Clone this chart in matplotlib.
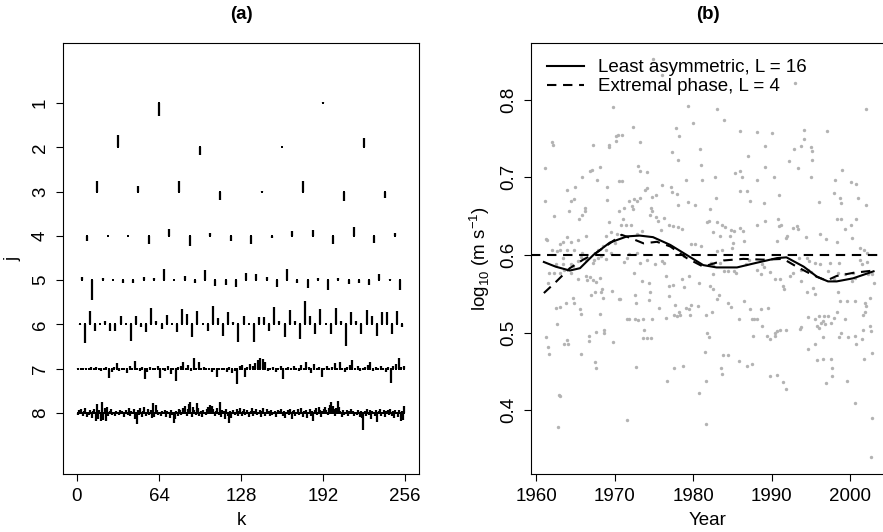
import matplotlib
matplotlib.use('Agg')
import matplotlib.pyplot as plt
import numpy as np

plt.rcParams['font.family'] = ['Liberation Sans', 'DejaVu Sans']
plt.rcParams['mathtext.fontset'] = 'custom'
plt.rcParams['mathtext.rm'] = 'Liberation Sans'

# ---- panel (a): wavelet coefficients by level j (positive = drawn upwards)
coef_j1 = [-13, 1.5]
coef_j2 = [12, -8, 0.5, 9]
coef_j3 = [10.5, 6, 11, -8.5, 0.5, 11, -9, -6.5]
coef_j4 = [-5, 0, -0.5, -8, 7, -10, 3, -5, -8, -2.5, 5, 6, -8, 9, -7, 2.5]
coef_j5 = [3.5, -20, 2.5, 0, -2.5, -3, 3, 2.5, 11, 0.5, 4, -3, 10, -6, -4.5, -6.5,
           7, 6, 3, -7, 11, -3, -8, 2, -9.5, 2, -4, -3, -5, 6, 1, -10]
coef_j6 = [-1, -19, 13, -7, 0, 3, -7, -7, 8, 0, -17, 8, -3, -8, 16, 3,
           -5, 9, 0, -8, 15, 10, -13, 13, 0, -7, 18, 6, -12, 12, 2, -18,
           8, 0, -18, 7, 7, -7, 17, 3, -13, 14, 3, -15, 23, 8, -10, 15,
           0, -10, 16, 3, -22, 12, 3, -10, 14, 8, -12, 12, 12, -10, 13, -3]
coef_j7 = [0.5, -1, 1, 0.5, -0.5, 1.5, -1, 2, 0.5, -2, 1, 2, -9, -3, 1.5, 6,
           -2, 1, 0.5, -4, 2.5, -1, 8, 1, -2, 1.5, -10, -3, 2, -1, 1, 3,
           -9, 1, -2, 2.5, -5, 1, -12, 2, 3, 7, -1, 4, -2, 11, 1, 7,
           -1, 2, -1, 0.5, -3, 1, -8, 0.5, -1, 1, -3, 2, -4, -2, -15, 3,
           4, -8, 2, 5, 3, 6, 9, 11, 10, 7, -2, 1, 2, -3, 1, 3,
           -10, 1, 2, -1, 3, 1, -2, 4, -1, 7, 2, -4, 5, -1, 2, -8,
           1, 3, -1, 2, 6, -1, 7, 0.5, -3, 2, 4, 9, -1, 3, -2, 1,
           2, 4, 7, -2, 2, -1, 3, 1, -3, 2, -14, 3, 5, 11, 2, 3]
coef_j8 = [-2, 3, -1, 4, -3, 2, 5, -4, 1, -2, 3, -5, 2, 4, -8, 9,
           -6, 3, -8, 11, -7, 5, -8, 6, -3, 2, 4, -2, 1, -3, 2, 1,
           -2, 3, -1, 2, -4, 1, 3, -2, 5, -3, 2, -1, 4, -6, -11, 3,
           -2, 5, -4, 2, 6, -3, 1, 4, -2, 3, -5, 10, -4, 8, 3, -2,
           1, -3, 2, -1, 3, -4, 2, 1, -5, 3, -2, -10, -6, 2, -3, 4,
           3, -2, 5, 2, 7, -3, 4, 9, 11, -4, 6, 3, -2, 10, 5, -3,
           2, -4, 3, 1, -2, 4, 6, 8, 5, 7, 4, -3, 2, 5, -2, 11,
           -4, 3, 2, -6, 4, -3, -10, 2, -5, 3, 1, -2, 4, -3, 2, 5,
           -3, 2, 4, -2, 3, 1, -4, 2, 5, -3, 2, 4, -2, 1, 3, -4,
           2, 5, -3, 1, 4, 2, -3, 3, -2, 1, 2, -4, 3, -1, 2, 4,
           -3, 2, -5, 1, 3, -2, 4, -6, 2, 3, -3, 1, 4, -2, 5, 1,
           -4, 2, 3, -5, 1, 4, -3, 2, -8, 3, 5, -2, 6, 3, -4, 2,
           4, 6, 3, -2, 5, 8, 11, 7, 4, -3, 5, 12, 6, 2, -4, 3,
           -2, 1, 3, -3, 2, 4, -1, 2, -3, 1, -2, 3, -4, 2, -5, -17,
           2, -3, 4, -2, 3, -6, 2, 1, -3, 3, -9, 2, 4, -3, 1, 3,
           -4, 2, 3, -2, 4, -3, 2, -5, 3, 1, -4, 3, -8, 2, -7, 7]
levels = [coef_j1, coef_j2, coef_j3, coef_j4, coef_j5, coef_j6, coef_j7, coef_j8]
coef_scale = 1 / 44.3
n_series = 256

# ---- panel (b): log10 wind speed observations
yr_a = [1969.85, 1962.0, 1962.2, 1967.2, 1969.3, 1969.3, 1970.2, 1970.5,
        1970.2, 1961.1, 1967.1, 1966.9, 1968.2, 1965.9, 1967.8, 1970.6,
        1964.0, 1965.0, 1969.0, 1961.1, 1964.4, 1964.9, 1969.1, 1966.2,
        1966.2, 1962.3, 1964.2, 1970.6, 1965.8, 1965.5, 1969.3, 1961.3,
        1961.4, 1964.0, 1963.5, 1963.1, 1964.5, 1965.3, 1966.4, 1968.9,
        1969.6, 1970.3, 1962.0, 1962.7, 1963.1, 1964.0, 1964.8, 1965.9,
        1967.9, 1968.5, 1968.9, 1970.0, 1962.5, 1963.4, 1963.5, 1964.5,
        1964.7, 1965.3, 1965.7, 1966.4, 1967.2, 1967.4, 1967.9, 1968.3,
        1968.9, 1969.6, 1961.6, 1962.3, 1963.0, 1963.6, 1964.4, 1965.3,
        1966.4, 1966.9, 1966.5, 1967.2, 1967.6, 1968.1, 1968.4, 1968.3,
        1969.7, 1970.6, 1961.5, 1962.5, 1963.0, 1963.8, 1964.7, 1964.8,
        1965.6, 1965.7, 1967.0, 1967.5, 1968.5, 1968.1, 1962.7, 1961.3,
        1961.5, 1961.7, 1963.6, 1964.0, 1964.1, 1965.7, 1966.8, 1966.7,
        1967.6, 1968.6, 1968.7, 1969.8, 1967.5, 1967.6, 1962.9, 1963.1,
        1962.8]
lv_a = [0.791, 0.746, 0.742, 0.742, 0.742, 0.739, 0.753, 0.754,
        0.747, 0.712, 0.709, 0.708, 0.713, 0.701, 0.697, 0.695,
        0.684, 0.688, 0.688, 0.669, 0.670, 0.672, 0.671, 0.660,
        0.657, 0.650, 0.657, 0.657, 0.651, 0.647, 0.642, 0.621,
        0.619, 0.623, 0.617, 0.614, 0.617, 0.619, 0.624, 0.625,
        0.629, 0.627, 0.607, 0.605, 0.606, 0.607, 0.607, 0.603,
        0.607, 0.611, 0.607, 0.616, 0.589, 0.588, 0.596, 0.588,
        0.586, 0.592, 0.598, 0.594, 0.590, 0.594, 0.596, 0.599,
        0.595, 0.602, 0.577, 0.577, 0.577, 0.581, 0.577, 0.569,
        0.573, 0.572, 0.568, 0.568, 0.565, 0.571, 0.556, 0.553,
        0.554, 0.543, 0.564, 0.532, 0.533, 0.538, 0.545, 0.538,
        0.530, 0.524, 0.549, 0.553, 0.544, 0.524, 0.511, 0.495,
        0.482, 0.473, 0.486, 0.491, 0.486, 0.473, 0.496, 0.489,
        0.501, 0.504, 0.499, 0.488, 0.462, 0.454, 0.420, 0.419,
        0.379]

yr_b = [1974.9, 1976.0, 1979.3, 1980.0, 1972.3, 1977.8, 1978.2, 1970.9,
        1973.3, 1980.9, 1977.3, 1978.1, 1973.0, 1973.2, 1974.1, 1981.0,
        1979.1, 1981.2, 1970.9, 1973.9, 1974.2, 1976.1, 1977.2, 1977.3,
        1977.9, 1972.5, 1971.9, 1972.9, 1973.3, 1974.8, 1975.3, 1978.1,
        1979.3, 1980.3, 1971.2, 1972.2, 1972.3, 1974.6, 1974.8, 1974.5,
        1975.3, 1975.5, 1976.3, 1976.9, 1977.4, 1978.1, 1978.6, 1981.8,
        1971.1, 1970.8, 1971.5, 1972.1, 1972.9, 1973.5, 1975.9, 1979.8,
        1980.3, 1981.0, 1971.2, 1971.6, 1971.9, 1972.9, 1973.3, 1974.2,
        1975.2, 1976.0, 1976.3, 1978.9, 1972.5, 1973.5, 1974.4, 1974.5,
        1976.5, 1976.9, 1977.4, 1978.6, 1979.5, 1980.8, 1978.9, 1970.7,
        1972.6, 1972.8, 1974.4, 1975.7, 1976.9, 1977.7, 1978.2, 1978.4,
        1979.1, 1979.5, 1979.7, 1980.6, 1971.6, 1971.8, 1972.6, 1973.0,
        1973.6, 1973.8, 1974.8, 1976.5, 1977.6, 1977.9, 1979.6, 1981.6,
        1973.6, 1974.1, 1974.6, 1981.8, 1981.5, 1972.7, 1977.6, 1978.7,
        1976.7, 1981.7, 1980.7, 1971.6, 1981.6]
lv_b = [0.852, 0.832, 0.792, 0.770, 0.765, 0.763, 0.753, 0.755,
        0.746, 0.736, 0.732, 0.722, 0.714, 0.708, 0.707, 0.716,
        0.697, 0.697, 0.695, 0.684, 0.686, 0.690, 0.687, 0.681,
        0.678, 0.672, 0.669, 0.670, 0.673, 0.675, 0.677, 0.665,
        0.668, 0.664, 0.661, 0.663, 0.659, 0.661, 0.657, 0.652,
        0.649, 0.644, 0.648, 0.638, 0.637, 0.636, 0.634, 0.642,
        0.646, 0.638, 0.638, 0.638, 0.627, 0.631, 0.632, 0.614,
        0.614, 0.611, 0.591, 0.596, 0.601, 0.603, 0.590, 0.594,
        0.588, 0.592, 0.590, 0.599, 0.577, 0.566, 0.564, 0.553,
        0.573, 0.560, 0.561, 0.569, 0.573, 0.564, 0.559, 0.543,
        0.548, 0.538, 0.542, 0.532, 0.547, 0.536, 0.526, 0.523,
        0.532, 0.530, 0.535, 0.534, 0.518, 0.517, 0.518, 0.516,
        0.517, 0.504, 0.518, 0.519, 0.523, 0.521, 0.523, 0.523,
        0.493, 0.493, 0.493, 0.500, 0.475, 0.456, 0.455, 0.457,
        0.438, 0.438, 0.422, 0.388, 0.383]

yr_c = [1983.1, 1984.0, 1986.0, 1988.1, 1990.0, 1989.2, 1992.9, 1987.0,
        1992.2, 1985.3, 1986.0, 1986.2, 1989.2, 1988.1, 1990.3, 1982.8,
        1990.9, 1982.9, 1986.0, 1986.9, 1987.2, 1989.0, 1982.2, 1982.0,
        1983.1, 1983.7, 1984.1, 1984.8, 1985.2, 1986.0, 1986.4, 1983.4,
        1982.5, 1984.7, 1986.5, 1985.1, 1988.1, 1989.2, 1990.8, 1991.2,
        1991.0, 1992.0, 1992.8, 1990.7, 1991.8, 1983.0, 1983.7, 1985.0,
        1982.3, 1982.6, 1983.5, 1982.5, 1983.9, 1984.4, 1985.2, 1985.5,
        1986.7, 1987.1, 1988.1, 1988.8, 1988.6, 1989.0, 1989.8, 1990.5,
        1991.1, 1991.5, 1991.6, 1992.4, 1992.8, 1982.2, 1982.6, 1983.3,
        1983.1, 1984.5, 1984.8, 1986.5, 1987.3, 1987.5, 1987.8, 1988.1,
        1988.6, 1989.5, 1982.4, 1985.8, 1988.8, 1987.7, 1989.4, 1990.5,
        1990.7, 1991.1, 1991.8, 1990.4, 1989.8, 1982.0, 1983.8, 1984.5,
        1985.8, 1986.9, 1987.5, 1983.6, 1983.7, 1990.7, 1989.8, 1991.5,
        1991.8]
lv_c = [0.788, 0.774, 0.760, 0.758, 0.757, 0.740, 0.736, 0.727,
        0.721, 0.705, 0.708, 0.700, 0.713, 0.697, 0.700, 0.700,
        0.677, 0.674, 0.682, 0.683, 0.670, 0.667, 0.659, 0.644,
        0.642, 0.638, 0.636, 0.632, 0.631, 0.635, 0.631, 0.624,
        0.629, 0.624, 0.618, 0.616, 0.639, 0.644, 0.646, 0.639,
        0.637, 0.625, 0.635, 0.618, 0.622, 0.605, 0.606, 0.609,
        0.590, 0.587, 0.590, 0.575, 0.579, 0.580, 0.579, 0.577,
        0.588, 0.594, 0.581, 0.588, 0.575, 0.584, 0.578, 0.569,
        0.569, 0.560, 0.556, 0.573, 0.577, 0.560, 0.556, 0.549,
        0.543, 0.538, 0.533, 0.541, 0.531, 0.517, 0.517, 0.517,
        0.530, 0.532, 0.526, 0.518, 0.508, 0.496, 0.496, 0.500,
        0.502, 0.503, 0.503, 0.496, 0.492, 0.494, 0.471, 0.471,
        0.464, 0.457, 0.460, 0.454, 0.447, 0.445, 0.444, 0.436,
        0.427]

yr_d = [1993.0, 2002.1, 1994.2, 1997.1, 1994.1, 1993.8, 1995.0, 1995.2,
        1995.1, 1993.4, 1995.0, 1999.0, 1998.1, 2000.1, 2000.8, 1997.9,
        1998.7, 2001.0, 1998.9, 1996.0, 2002.0, 1998.3, 1998.9, 2000.8,
        2000.1, 1999.3, 1993.2, 1993.4, 1994.4, 1996.2, 1997.0, 1998.3,
        2000.2, 2001.3, 2001.8, 2002.2, 2002.2, 2001.3, 2001.5, 1993.5,
        1994.5, 1994.8, 1993.8, 1994.7, 1995.0, 1995.5, 1996.2, 1997.5,
        1997.2, 1998.6, 1998.5, 1997.9, 1999.3, 2000.4, 2000.2, 2000.6,
        2002.3, 2002.8, 2003.0, 1993.8, 1994.5, 1995.3, 1995.6, 1998.5,
        1998.7, 1999.6, 2000.6, 2001.9, 2002.1, 2002.5, 1994.6, 1996.0,
        1996.7, 1997.2, 1998.0, 1995.6, 1995.8, 1996.0, 1996.3, 1996.5,
        1996.8, 1997.6, 1993.6, 1993.8, 1996.5, 1998.4, 1999.4, 2001.6,
        2001.9, 2002.5, 2001.7, 2001.5, 2002.7, 2002.8, 2000.6, 2000.8,
        1999.8, 1998.6, 1998.9, 1995.5, 1994.6, 1995.8, 1996.6, 1997.6,
        1997.7, 1997.7, 1997.0, 1999.6, 2001.8, 2000.6, 2002.8, 2002.7]
lv_d = [0.822, 0.788, 0.761, 0.760, 0.749, 0.741, 0.739, 0.734,
        0.722, 0.712, 0.701, 0.710, 0.697, 0.694, 0.692, 0.680,
        0.674, 0.674, 0.667, 0.668, 0.665, 0.646, 0.646, 0.646,
        0.639, 0.633, 0.637, 0.633, 0.623, 0.627, 0.621, 0.617,
        0.622, 0.609, 0.607, 0.602, 0.591, 0.593, 0.588, 0.596,
        0.596, 0.592, 0.581, 0.581, 0.578, 0.590, 0.588, 0.590,
        0.579, 0.590, 0.577, 0.569, 0.575, 0.577, 0.566, 0.570,
        0.575, 0.575, 0.564, 0.566, 0.553, 0.558, 0.550, 0.553,
        0.541, 0.541, 0.541, 0.538, 0.534, 0.545, 0.520, 0.521,
        0.522, 0.522, 0.519, 0.518, 0.508, 0.506, 0.513, 0.515,
        0.511, 0.513, 0.505, 0.507, 0.495, 0.526, 0.517, 0.523,
        0.526, 0.508, 0.503, 0.492, 0.502, 0.474, 0.496, 0.485,
        0.495, 0.495, 0.499, 0.485, 0.479, 0.465, 0.466, 0.466,
        0.455, 0.444, 0.435, 0.438, 0.466, 0.410, 0.390, 0.340]

# smooths from the two wavelet filters
la_year = [1961.0, 1962.5, 1964.3, 1965.6, 1967.3, 1969.4, 1971.6, 1973.2, 1974.9, 1977.1,
           1979.2, 1981.3, 1983.0, 1985.6, 1988.1, 1990.7, 1991.9, 1994.1, 1995.8, 1997.2,
           1998.3, 2000.4, 2003.0]
la_val = [0.591, 0.585, 0.580, 0.583, 0.600, 0.616, 0.624, 0.625, 0.623, 0.613,
          0.600, 0.587, 0.584, 0.584, 0.590, 0.596, 0.597, 0.585, 0.572, 0.566,
          0.566, 0.570, 0.579]
ep_year = [1961.0, 1962.6, 1964.3, 1966.0, 1967.7, 1969.4, 1970.9, 1972.0, 1973.7, 1975.4,
           1977.1, 1979.2, 1981.3, 1983.9, 1986.4, 1989.0, 1991.5, 1993.2, 1995.3, 1997.0,
           1998.3, 2000.4, 2003.0]
ep_val = [0.551, 0.566, 0.583, 0.594, 0.603, 0.615, 0.626, 0.622, 0.615, 0.617,
          0.611, 0.596, 0.585, 0.593, 0.595, 0.594, 0.595, 0.585, 0.574, 0.567,
          0.573, 0.577, 0.580]
mean_level = 0.6

FS = 13.5
W, H = 883, 532
fig = plt.figure(figsize=(W / 100, H / 100), dpi=100)
ax1 = fig.add_axes([63 / W, 58 / H, 356 / W, 431 / H])
ax2 = fig.add_axes([531 / W, 58 / H, 353 / W, 431 / H])

# panel (a)
for j, c in enumerate(levels, start=1):
    c = np.asarray(c, dtype=float)
    n = len(c)
    k = (np.arange(n) + 0.5) * n_series / n
    ax1.vlines(k, j, j - c * coef_scale, color='black', lw=1.6)
    ax1.plot(k, np.full(n, j), 's', ms=1.7, mew=0, color='black')

ax1.set_xlim(-10.9, 266.9)
ax1.set_ylim(9.377, -0.355)
ax1.set_xticks([0, 64, 128, 192, 256])
ax1.set_yticks(range(1, 9))
ax1.set_xlabel('k', fontsize=FS, labelpad=5)
ax1.set_ylabel('j', fontsize=FS, labelpad=8)
ax1.set_title('(a)', fontsize=FS, fontweight='bold', pad=17)

# panel (b)
yrs = yr_a + yr_b + yr_c + yr_d
lvs = lv_a + lv_b + lv_c + lv_d
ax2.scatter(yrs, lvs, s=6, color='#b3b3b3', lw=0, zorder=1)
ax2.axhline(mean_level, color='black', lw=1.5, ls=(0, (4.5, 3.2)), zorder=2)
ax2.plot(la_year, la_val, color='black', lw=1.5, label='Least asymmetric, L = 16', zorder=3)
ax2.plot(ep_year, ep_val, color='black', lw=1.5, ls=(0, (4.5, 3.2)),
         label='Extremal phase, L = 4', zorder=3)
ax2.set_xlim(1959.36, 2004.33)
ax2.set_ylim(0.318, 0.873)
ax2.set_xticks([1960, 1970, 1980, 1990, 2000])
ax2.set_yticks([0.4, 0.5, 0.6, 0.7, 0.8])
ax2.set_xlabel('Year', fontsize=FS, labelpad=5)
ax2.set_ylabel(r'log$_{\mathregular{10}}$ (m s$^{\mathregular{-1}}$)', fontsize=FS, labelpad=6)
ax2.set_title('(b)', fontsize=FS, fontweight='bold', pad=17)
ax2.legend(loc='upper left', bbox_to_anchor=(0.045, 0.963), frameon=False, fontsize=FS,
           handlelength=2.0, handletextpad=0.75, labelspacing=0.1, borderpad=0, borderaxespad=0)

for ax in (ax1, ax2):
    ax.tick_params(direction='out', length=5, width=0.8, labelsize=FS, pad=5)
    for lab in ax.get_yticklabels():
        lab.set_rotation(90)
        lab.set_va('center')
    for sp in ax.spines.values():
        sp.set_linewidth(0.8)

fig.savefig('out.png', dpi=100)
